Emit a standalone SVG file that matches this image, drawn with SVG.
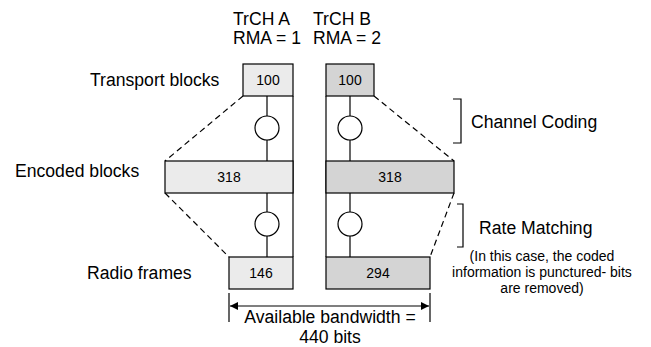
<svg xmlns="http://www.w3.org/2000/svg" width="651" height="347" viewBox="0 0 651 347">
  <defs>
    <style>
      text { font-family: "Liberation Sans", Arial, sans-serif; fill: #000; }
      .lbl { font-size: 17.6px; }
      .num { font-size: 14px; text-anchor: middle; }
      .note { font-size: 14px; text-anchor: middle; }
      .boxA { fill: #ebebeb; stroke: #000; stroke-width: 1.2; }
      .boxB { fill: #d4d4d4; stroke: #000; stroke-width: 1.2; }
      .ln { stroke: #000; stroke-width: 1.2; fill: none; }
      .dash { stroke: #000; stroke-width: 1.2; fill: none; stroke-dasharray: 6 4; }
      .coder { fill: #fff; stroke: #000; stroke-width: 1.2; }
    </style>
    <marker id="arr" viewBox="0 0 10 10" refX="10" refY="5" markerWidth="10" markerHeight="8" markerUnits="userSpaceOnUse" orient="auto-start-reverse">
      <path d="M0,0 L10,5 L0,10 z" fill="#000"/>
    </marker>
  </defs>

  <!-- column headers -->
  <g id="headers">
    <text class="lbl" x="233" y="25">TrCH A</text>
    <text class="lbl" x="233" y="44">RMA = 1</text>
    <text class="lbl" x="313" y="25">TrCH B</text>
    <text class="lbl" x="313" y="44">RMA = 2</text>
  </g>

  <!-- row labels -->
  <g id="row-labels">
    <text class="lbl" x="90" y="86">Transport blocks</text>
    <text class="lbl" x="15" y="177">Encoded blocks</text>
    <text class="lbl" x="87" y="279">Radio frames</text>
  </g>

  <!-- connectors -->
  <g id="connectors">
    <!-- TrCH A chain -->
    <line class="ln" x1="267" y1="96" x2="267" y2="116"/>
    <line class="ln" x1="267" y1="140" x2="267" y2="161"/>
    <line class="ln" x1="267" y1="193" x2="267" y2="212"/>
    <line class="ln" x1="267" y1="236" x2="267" y2="257"/>
    <line class="ln" x1="293" y1="96" x2="293" y2="257"/>
    <!-- TrCH B chain -->
    <line class="ln" x1="350" y1="96" x2="350" y2="116"/>
    <line class="ln" x1="350" y1="140" x2="350" y2="161"/>
    <line class="ln" x1="350" y1="193" x2="350" y2="212"/>
    <line class="ln" x1="350" y1="236" x2="350" y2="257"/>
    <line class="ln" x1="326" y1="96" x2="326" y2="257"/>
    <!-- expansion / puncturing outlines -->
    <line class="dash" x1="243" y1="96" x2="165" y2="161"/>
    <line class="dash" x1="165" y1="193" x2="229" y2="257"/>
    <line class="dash" x1="374" y1="96" x2="454" y2="161"/>
    <line class="dash" x1="454" y1="193" x2="430" y2="257"/>
  </g>

  <!-- coding stages -->
  <g id="coders">
    <circle class="coder" cx="267" cy="128" r="12"/>
    <circle class="coder" cx="267" cy="224" r="12"/>
    <circle class="coder" cx="350" cy="128" r="12"/>
    <circle class="coder" cx="350" cy="224" r="12"/>
  </g>

  <g id="tb-a">
    <rect class="boxA" x="243" y="64" width="50" height="32"/>
    <text class="num" x="268" y="85">100</text>
  </g>
  <g id="tb-b">
    <rect class="boxB" x="326" y="64" width="48" height="32"/>
    <text class="num" x="350" y="85">100</text>
  </g>
  <g id="enc-a">
    <rect class="boxA" x="165" y="161" width="128" height="32"/>
    <text class="num" x="229" y="182">318</text>
  </g>
  <g id="enc-b">
    <rect class="boxB" x="326" y="161" width="128" height="32"/>
    <text class="num" x="390" y="182">318</text>
  </g>
  <g id="rf-a">
    <rect class="boxA" x="229" y="257" width="64" height="32"/>
    <text class="num" x="261" y="278">146</text>
  </g>
  <g id="rf-b">
    <rect class="boxB" x="326" y="257" width="104" height="32"/>
    <text class="num" x="378" y="278">294</text>
  </g>

  <!-- channel coding bracket -->
  <g id="channel-coding">
    <path class="ln" d="M453,99 H461 V143 H453"/>
    <text class="lbl" x="471" y="128">Channel Coding</text>
  </g>

  <!-- rate matching bracket -->
  <g id="rate-matching">
    <path class="ln" d="M457,204 H463 V247 H457"/>
    <text class="lbl" x="479" y="234">Rate Matching</text>
    <text class="note" x="542" y="261">(In this case, the coded</text>
    <text class="note" x="542" y="277">information is punctured- bits</text>
    <text class="note" x="542" y="293">are removed)</text>
  </g>

  <!-- available bandwidth -->
  <g id="bandwidth">
    <line class="ln" x1="229" y1="293" x2="229" y2="322"/>
    <line class="ln" x1="430" y1="293" x2="430" y2="322"/>
    <line class="ln" x1="230" y1="306" x2="429" y2="306" marker-start="url(#arr)" marker-end="url(#arr)"/>
    <text class="lbl" x="330" y="323" text-anchor="middle">Available bandwidth =</text>
    <text class="lbl" x="330" y="343" text-anchor="middle">440 bits</text>
  </g>
</svg>
